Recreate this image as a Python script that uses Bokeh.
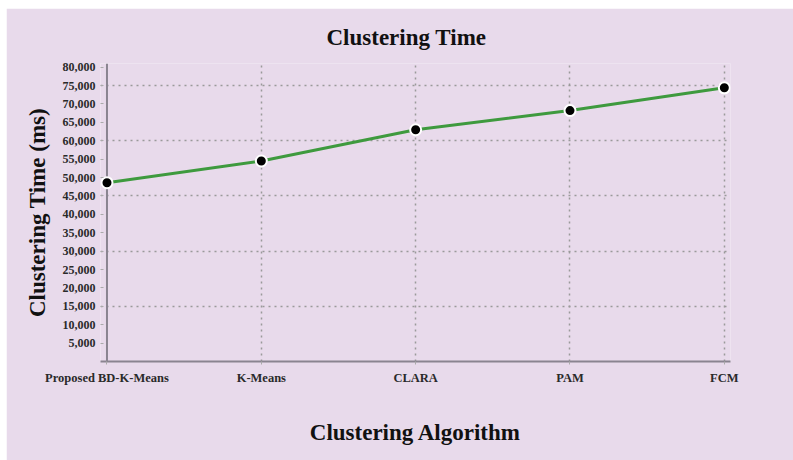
from bokeh.plotting import figure
from bokeh.models import Range1d, FixedTicker, NumeralTickFormatter, Span
from bokeh.embed import file_html
from bokeh.resources import INLINE

algorithms = ["Proposed BD-K-Means", "K-Means", "CLARA", "PAM", "FCM"]
clustering_time_ms = [48600, 54500, 63000, 68200, 74400]
y_ticks = list(range(5000, 80001, 5000))
y_grid_ticks = [15000, 30000, 45000, 60000, 75000]

BG = "#E8DAEB"
FONT = "Liberation Serif"
AXIS_COLOR = "#8a8490"

xs = list(range(len(algorithms)))

p = figure(width=787, height=452, frame_width=630, frame_height=298,
           output_backend="svg", toolbar_location=None,
           x_range=Range1d(-0.042, 4.04), y_range=Range1d(0, 81000),
           min_border_left=94, min_border_right=63, min_border_top=55, min_border_bottom=99,
           title="Clustering Time")
p.margin = (8, 0, 0, 6)

p.background_fill_color = BG
p.border_fill_color = BG
p.outline_line_color = None

p.title.align = "left"
p.title.offset = 226
p.title.text_font = FONT
p.title.text_font_size = "23px"
p.title.text_font_style = "bold"
p.title.text_color = "#111111"
p.title.standoff = 27

# axes
for ax in (p.xaxis[0], p.yaxis[0]):
    ax.axis_line_color = AXIS_COLOR
    ax.axis_line_width = 2
    ax.major_tick_line_color = "#aaaaaa"
    ax.major_tick_in = 0
    ax.major_tick_out = 3
    ax.minor_tick_line_color = None
    ax.major_label_text_font = FONT
    ax.major_label_text_font_style = "bold"
    ax.major_label_text_font_size = "12.5px"
    ax.major_label_text_color = "#2a2a2a"
    ax.axis_label_text_font = FONT
    ax.axis_label_text_font_style = "bold"
    ax.axis_label_text_font_size = "23px"
    ax.axis_label_text_color = "#111111"

p.xaxis.ticker = FixedTicker(ticks=xs)
p.xaxis.major_label_overrides = {i: a for i, a in enumerate(algorithms)}
p.xaxis.major_label_standoff = 6
p.xaxis.axis_label = "Clustering Algorithm"
p.xaxis.axis_label_standoff = 32

p.yaxis.ticker = FixedTicker(ticks=y_ticks)
p.yaxis.formatter = NumeralTickFormatter(format="0,0")
p.yaxis.axis_line_color = None
p.yaxis.major_tick_out = 0
p.yaxis.major_tick_in = 3
p.yaxis.major_label_text_font_size = "12px"
p.yaxis.major_label_standoff = 5
p.yaxis.axis_label = "Clustering Time (ms)"
p.yaxis.axis_label_standoff = 10

# y axis line drawn at x = 0 (first category)
y_axis_line = Span(location=0, dimension="height", line_color=AXIS_COLOR, line_width=2, level="underlay")
p.add_layout(y_axis_line)

# grids
p.xgrid.ticker = FixedTicker(ticks=xs[1:])
p.ygrid.ticker = FixedTicker(ticks=y_grid_ticks)
for g in (p.xgrid[0], p.ygrid[0]):
    g.grid_line_color = "#9a9a9a"
    g.grid_line_dash = "2 4"
    g.grid_line_width = 1.5

p.line(xs, clustering_time_ms, line_color="#3E9A3E", line_width=3)
p.scatter(xs, clustering_time_ms, size=11, fill_color="black", line_color="white", line_width=2)

open("out.html", "w").write(file_html(p, INLINE))
